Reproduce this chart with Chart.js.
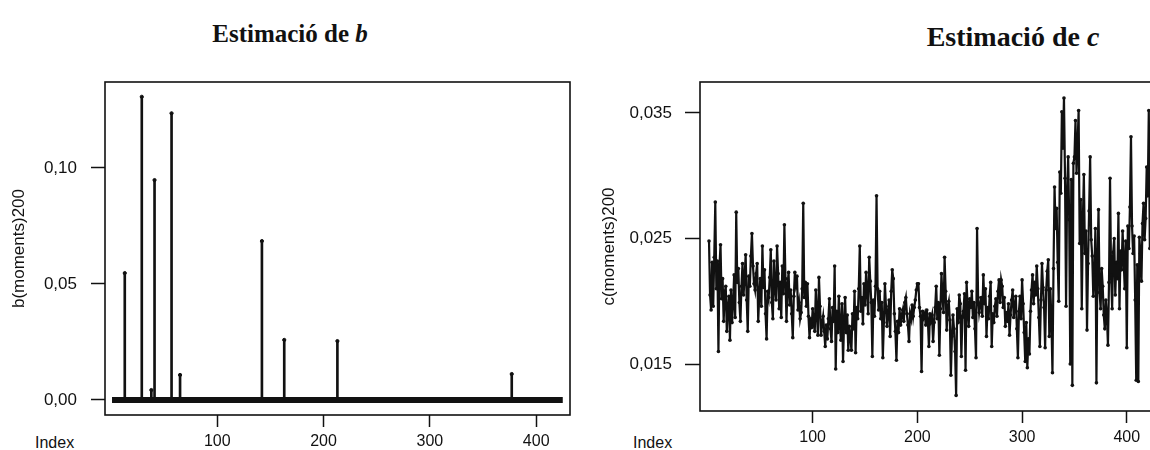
<!DOCTYPE html>
<html lang="ca">
<head>
<meta charset="UTF-8">
<title>Estimació de b i c</title>
<script src="https://cdn.jsdelivr.net/npm/chart.js@4.4.1/dist/chart.umd.min.js"></script>
<style>
    body { margin: 0; width: 1150px; height: 450px; overflow: hidden; background: #fff; position: relative; }
    canvas { position: absolute; top: 0; }
    .ttl { position: absolute; font-family: "Liberation Serif", "Times New Roman", serif; font-weight: bold; color: #111; line-height: 1; white-space: nowrap; transform: translateX(-50%); }
    .idx { position: absolute; font-family: "Liberation Sans", Arial, sans-serif; font-size: 16px; line-height: 1; color: #111; }
</style>
</head>
<body>
<div class="ttl" style="left:290px; top:21px; font-size:25px;">Estimació de <i>b</i></div>
<div class="ttl" style="left:1013px; top:23px; font-size:28px;">Estimació de <i>c</i></div>
<div class="idx" style="left:35px; top:435px;">Index</div>
<div class="idx" style="left:633px; top:435px;">Index</div>
<canvas id="chartB" width="575" height="450" style="left:0"></canvas>
<canvas id="chartC" width="600" height="450" style="left:575px"></canvas>

<script>
// serie b: tot zero excepte aquests pics
const bFirstIndex = 1;
const bLastIndex = 425;
const bSpikeIndex = [13, 29, 38, 41, 57, 65, 142, 163, 213, 377];
const bSpikeValue = [0.0547, 0.1307, 0.0043, 0.0948, 0.1236, 0.0108, 0.0685, 0.0259, 0.0254, 0.0112];
const bYTicks = [0, 0.05, 0.10];

// serie c, index 1..425
const cValues = [
    0.0248, 0.0205, 0.0193, 0.0231, 0.0196, 0.0235, 0.0279, 0.0210, 0.0232, 0.0160,
    0.0228, 0.0245, 0.0202, 0.0218, 0.0184, 0.0207, 0.0212, 0.0176, 0.0195, 0.0204,
    0.0169, 0.0209, 0.0183, 0.0198, 0.0221, 0.0187, 0.0271, 0.0215, 0.0226, 0.0199,
    0.0184, 0.0212, 0.0230, 0.0205, 0.0219, 0.0237, 0.0201, 0.0176, 0.0220, 0.0212,
    0.0236, 0.0254, 0.0228, 0.0214, 0.0209, 0.0222, 0.0230, 0.0184, 0.0205, 0.0218,
    0.0196, 0.0244, 0.0211, 0.0225, 0.0190, 0.0170, 0.0208, 0.0203, 0.0219, 0.0241,
    0.0199, 0.0186, 0.0232, 0.0210, 0.0201, 0.0244, 0.0222, 0.0194, 0.0215, 0.0187,
    0.0228, 0.0206, 0.0261, 0.0218, 0.0184, 0.0213, 0.0223, 0.0197, 0.0209, 0.0190,
    0.0171, 0.0204, 0.0223, 0.0214, 0.0220, 0.0193, 0.0199, 0.0186, 0.0191, 0.0210,
    0.0278, 0.0203, 0.0215, 0.0196, 0.0214, 0.0188, 0.0171, 0.0186, 0.0179, 0.0194,
    0.0182, 0.0176, 0.0209, 0.0190, 0.0173, 0.0219, 0.0196, 0.0173, 0.0182, 0.0188,
    0.0176, 0.0164, 0.0181, 0.0170, 0.0186, 0.0202, 0.0178, 0.0168, 0.0195, 0.0184,
    0.0228, 0.0146, 0.0192, 0.0175, 0.0204, 0.0180, 0.0169, 0.0198, 0.0152, 0.0183,
    0.0203, 0.0175, 0.0189, 0.0161, 0.0180, 0.0172, 0.0161, 0.0190, 0.0178, 0.0208,
    0.0159, 0.0195, 0.0186, 0.0210, 0.0244, 0.0192, 0.0203, 0.0182, 0.0214, 0.0197,
    0.0223, 0.0208, 0.0190, 0.0235, 0.0216, 0.0199, 0.0156, 0.0201, 0.0188, 0.0212,
    0.0284, 0.0210, 0.0193, 0.0208, 0.0186, 0.0199, 0.0155, 0.0183, 0.0214, 0.0196,
    0.0180, 0.0191, 0.0201, 0.0172, 0.0208, 0.0225, 0.0218, 0.0190, 0.0176, 0.0153,
    0.0184, 0.0175, 0.0194, 0.0181, 0.0189, 0.0193, 0.0184, 0.0199, 0.0203, 0.0190,
    0.0181, 0.0168, 0.0190, 0.0186, 0.0197, 0.0188, 0.0195, 0.0201, 0.0209, 0.0214,
    0.0214, 0.0195, 0.0188, 0.0144, 0.0192, 0.0187, 0.0190, 0.0181, 0.0193, 0.0185,
    0.0164, 0.0190, 0.0185, 0.0189, 0.0168, 0.0183, 0.0195, 0.0212, 0.0186, 0.0199,
    0.0157, 0.0194, 0.0222, 0.0203, 0.0191, 0.0235, 0.0208, 0.0177, 0.0196, 0.0200,
    0.0185, 0.0141, 0.0172, 0.0189, 0.0178, 0.0160, 0.0125, 0.0194, 0.0183, 0.0205,
    0.0198, 0.0156, 0.0187, 0.0192, 0.0206, 0.0145, 0.0215, 0.0196, 0.0180, 0.0202,
    0.0195, 0.0208, 0.0187, 0.0199, 0.0178, 0.0155, 0.0258, 0.0203, 0.0191, 0.0197,
    0.0203, 0.0188, 0.0221, 0.0198, 0.0210, 0.0172, 0.0195, 0.0186, 0.0204, 0.0215,
    0.0164, 0.0190, 0.0183, 0.0196, 0.0202, 0.0188, 0.0208, 0.0217, 0.0199, 0.0217,
    0.0212, 0.0195, 0.0203, 0.0180, 0.0191, 0.0184, 0.0198, 0.0173, 0.0189, 0.0201,
    0.0209, 0.0187, 0.0196, 0.0204, 0.0178, 0.0155, 0.0192, 0.0204, 0.0186, 0.0217,
    0.0198, 0.0175, 0.0152, 0.0183, 0.0147, 0.0170, 0.0158, 0.0192, 0.0209, 0.0221,
    0.0198, 0.0215, 0.0205, 0.0228, 0.0210, 0.0187, 0.0164, 0.0201, 0.0230, 0.0211,
    0.0195, 0.0163, 0.0209, 0.0224, 0.0233, 0.0172, 0.0210, 0.0185, 0.0143, 0.0226,
    0.0291, 0.0258, 0.0274, 0.0231, 0.0200, 0.0303, 0.0286, 0.0351, 0.0322, 0.0362,
    0.0298, 0.0196, 0.0287, 0.0315, 0.0265, 0.0150, 0.0297, 0.0133, 0.0310, 0.0315,
    0.0344, 0.0302, 0.0325, 0.0352, 0.0246, 0.0281, 0.0194, 0.0263, 0.0301, 0.0238,
    0.0256, 0.0177, 0.0230, 0.0272, 0.0315, 0.0249, 0.0236, 0.0204, 0.0221, 0.0258,
    0.0135, 0.0232, 0.0273, 0.0207, 0.0194, 0.0226, 0.0212, 0.0189, 0.0178, 0.0201,
    0.0188, 0.0165, 0.0215, 0.0298, 0.0221, 0.0194, 0.0239, 0.0250, 0.0205, 0.0231,
    0.0218, 0.0270, 0.0194, 0.0240, 0.0225, 0.0256, 0.0233, 0.0210, 0.0248, 0.0163,
    0.0260, 0.0242, 0.0275, 0.0331, 0.0260, 0.0238, 0.0252, 0.0201, 0.0137, 0.0229,
    0.0136, 0.0251, 0.0238, 0.0216, 0.0262, 0.0278, 0.0249, 0.0266, 0.0307, 0.0284,
    0.0352, 0.0242, 0.0290, 0.0268, 0.0301
];
const cYTicks = [0.015, 0.025, 0.035];
const xTicks = [100, 200, 300, 400];

const ink = '#111';
const sans = '"Liberation Sans", Arial, sans-serif';

// marc de la gràfica (estil R)
const boxPlugin = {
    id: 'box',
    afterDraw(chart) {
        const a = chart.chartArea, ctx = chart.ctx;
        ctx.save();
        ctx.strokeStyle = ink;
        ctx.lineWidth = 1.6;
        ctx.strokeRect(a.left, a.top, a.right - a.left, a.bottom - a.top);
        ctx.restore();
    }
};

function axes(opt) {
    return {
        x: {
            type: 'linear', min: opt.xMin, max: opt.xMax, offset: false,
            afterFit: s => { s.height = opt.xHeight; },
            afterBuildTicks: s => { s.ticks = xTicks.map(v => ({ value: v })); },
            grid: { offset: false, drawOnChartArea: false, drawTicks: true, tickLength: 12, tickColor: ink, tickWidth: 1.5 },
            border: { display: false },
            ticks: { color: ink, font: { family: sans, size: 16 }, padding: 5, maxRotation: 0, callback: v => String(v) }
        },
        y: {
            min: opt.yMin, max: opt.yMax,
            afterFit: s => { s.width = opt.yWidth; },
            afterBuildTicks: s => { s.ticks = opt.yTicks.map(v => ({ value: v })); },
            grid: { drawOnChartArea: false, drawTicks: true, tickLength: opt.tickLen, tickColor: ink, tickWidth: 1.5 },
            border: { display: false },
            ticks: { color: ink, font: { family: sans, size: 17 }, padding: opt.tickPad,
                     callback: v => v.toFixed(opt.dec).replace('.', ',') },
            title: { display: true, text: opt.yTitle, color: ink, font: { family: sans, size: 17 }, padding: { top: opt.titlePad, bottom: 0 } }
        }
    };
}

const spikes = bSpikeIndex.map((x, i) => ({ x: x, y: bSpikeValue[i] }));

new Chart(document.getElementById('chartB'), {
    type: 'bar',
    data: {
        datasets: [
            { type: 'line', data: [{ x: bFirstIndex, y: 0 }, { x: bLastIndex, y: 0 }], borderColor: ink, borderWidth: 6, pointRadius: 0, borderCapStyle: 'butt' },
            { type: 'bar', data: spikes, backgroundColor: ink, barThickness: 2 },
            { type: 'scatter', data: spikes, backgroundColor: ink, borderColor: ink, pointRadius: 1.6 }
        ]
    },
    options: {
        responsive: false, animation: false, devicePixelRatio: 1,
        layout: { padding: { left: 0, top: 82, right: 2, bottom: 0 } },
        plugins: { legend: { display: false }, tooltip: { enabled: false } },
        scales: axes({ xMin: -5.6, xMax: 431.8, yMin: -0.00647, yMax: 0.13707, yTicks: bYTicks,
                       xHeight: 35, yWidth: 105, tickLen: 14, tickPad: 14, dec: 2,
                       yTitle: 'b(moments)200', titlePad: 9 })
    },
    plugins: [boxPlugin]
});

new Chart(document.getElementById('chartC'), {
    type: 'line',
    data: {
        datasets: [{
            data: cValues.map((v, i) => ({ x: i + 1, y: v })),
            borderColor: ink, backgroundColor: ink, borderWidth: 2.2,
            pointRadius: 1.8, pointBorderWidth: 0, tension: 0
        }]
    },
    options: {
        responsive: false, animation: false, devicePixelRatio: 1,
        layout: { padding: { left: 0, top: 82, right: 17, bottom: 0 } },
        plugins: { legend: { display: false }, tooltip: { enabled: false } },
        scales: axes({ xMin: -7.6, xMax: 429.8, yMin: 0.011255, yMax: 0.03747, yTicks: cYTicks,
                       xHeight: 39, yWidth: 125, tickLen: 15, tickPad: 13, dec: 3,
                       yTitle: 'c(moments)200', titlePad: 24 })
    },
    plugins: [boxPlugin]
});
</script>
</body>
</html>
